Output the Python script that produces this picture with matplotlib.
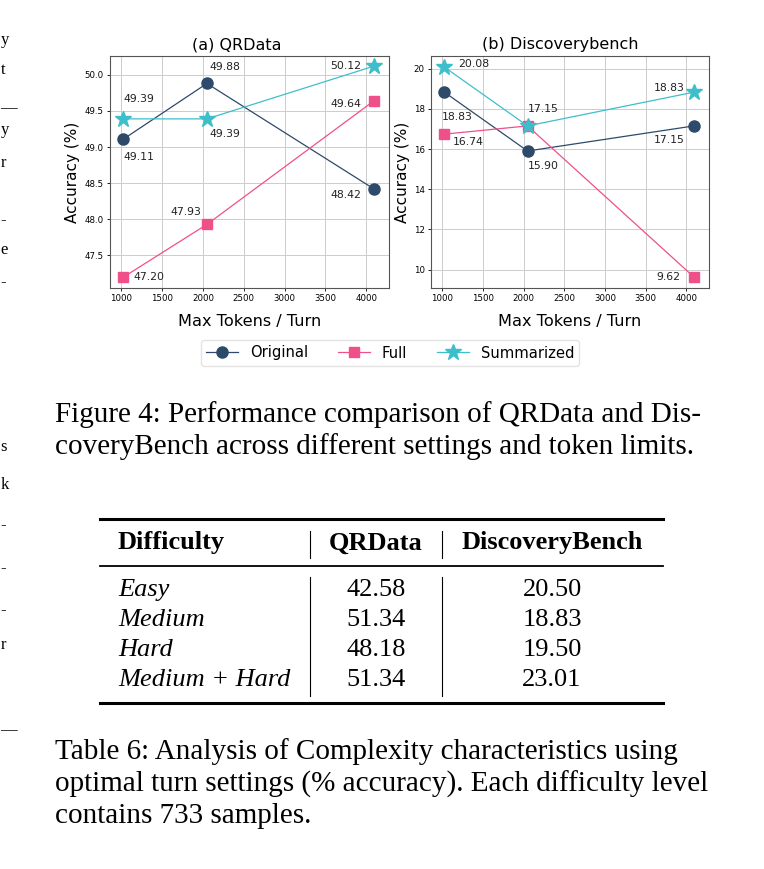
import numpy as np
import matplotlib.pyplot as plt
from matplotlib.lines import Line2D

# ---- data ----
tokens = [1024, 2048, 4096]
qr_original = [49.11, 49.88, 48.42]
qr_full = [47.20, 47.93, 49.64]
qr_summarized = [49.39, 49.39, 50.12]
db_original = [18.83, 15.90, 17.15]
db_full = [16.74, 17.15, 9.62]
db_summarized = [20.08, 17.15, 18.83]

series_names = ["Original", "Full", "Summarized"]
table_header = ["Difficulty", "QRData", "DiscoveryBench"]
difficulty = ["Easy", "Medium", "Hard", "Medium + Hard"]
table_qr = ["42.58", "51.34", "48.18", "51.34"]
table_db = ["20.50", "18.83", "19.50", "23.01"]

fig_caption = ["Figure 4: Performance comparison of QRData and Dis-",
               "coveryBench across different settings and token limits."]
tab_caption = ["Table 6: Analysis of Complexity characteristics using",
               "optimal turn settings (% accuracy). Each difficulty level",
               "contains 733 samples."]

W, H = 764, 869
C_ORIG = '#2E4A6B'
C_FULL = '#F0508A'
C_SUM = '#3DBFCB'
SERIF = 'Liberation Serif'

fig = plt.figure(figsize=(W / 100, H / 100), dpi=100)
fig.patch.set_facecolor('white')

def fy(y):
  return 1 - y / H

def fx(x):
  return x / W

def make_ax(x0, x1, y0, y1):
  return fig.add_axes([fx(x0), fy(y1), fx(x1) - fx(x0), fy(y0) - fy(y1)])

ax1 = make_ax(110, 389, 56, 288)
ax2 = make_ax(431, 709, 56, 288)

def draw_panel(ax, orig, full, summ, title, title_x, ylim, yticks, offsets):
  l1, = ax.plot(tokens, orig, color=C_ORIG, marker='o', markersize=8, linewidth=0.9, zorder=3)
  l2, = ax.plot(tokens, full, color=C_FULL, marker='s', markersize=7.5, linewidth=0.9, zorder=3)
  l3, = ax.plot(tokens, summ, color=C_SUM, marker='*', markersize=12, linewidth=0.9, zorder=4)
  done = set()
  for vals, offs in zip([orig, full, summ], offsets):
    for x, v, (dx, dy, ha) in zip(tokens, vals, offs):
      key = (x, v, dx, dy)
      if key in done:  # same value, same place: one label only
        continue
      done.add(key)
      ax.annotate(f'{v:.2f}', (x, v), xytext=(dx, dy), textcoords='offset points',
                  ha=ha, va='center', fontsize=7.8, color='#222222')
  ax.set_title(title, fontsize=11.5, pad=5, x=title_x)
  ax.set_ylabel('Accuracy (%)', fontsize=11, labelpad=3)
  ax.set_xlabel('Max Tokens / Turn', fontsize=11.6, labelpad=8)
  ax.set_xlim(860, 4280)
  ax.set_xticks([1000, 1500, 2000, 2500, 3000, 3500, 4000])
  ax.set_ylim(*ylim)
  ax.set_yticks(yticks)
  ax.tick_params(labelsize=6.2, length=2.5, width=0.6, pad=2)
  ax.grid(True, color='#cccccc', linewidth=0.7)
  ax.set_axisbelow(True)
  for s in ax.spines.values():
    s.set_color('#555555')
    s.set_linewidth(0.8)
  return [l1, l2, l3]

# label offsets (points) per series: original, full, summarized
qr_offsets = [
  [(0, -13, 'left'), (2, 11.5, 'left'), (-9, -4, 'right')],
  [(7, 0, 'left'), (-4, 9, 'right'), (-9, -2, 'right')],
  [(0, 14, 'left'), (2, -11, 'left'), (-9, 0, 'right')],
]
db_offsets = [
  [(-2, -18, 'left'), (0, -11, 'left'), (-7, -10, 'right')],
  [(6, -6, 'left'), (0, 12, 'left'), (-10, 0, 'right')],
  [(10, 2, 'left'), (0, 12, 'left'), (-7, 3, 'right')],
]

handles = draw_panel(ax1, qr_original, qr_full, qr_summarized, '(a) QRData', 0.456,
                     (47.05, 50.26), [47.5, 48.0, 48.5, 49.0, 49.5, 50.0], qr_offsets)
draw_panel(ax2, db_original, db_full, db_summarized, '(b) Discoverybench', 0.465,
           (9.08, 20.63), [10, 12, 14, 16, 18, 20], db_offsets)
ax1.yaxis.set_major_formatter(plt.FormatStrFormatter('%.1f'))

fig.legend(handles, series_names, loc='center', bbox_to_anchor=(fx(390), fy(353)),
           ncol=3, fontsize=10.6, frameon=True, edgecolor='#dddddd', handlelength=2.2,
           handletextpad=0.8, columnspacing=2.0, borderpad=0.35)

# left-edge fragments of the neighbouring column
frag = [(40, 'y'), (70, 't'), (108, '—'), (130, 'y'), (163, 'r'), (220, '-'), (250, 'e'),
        (282, '-'), (447, 's'), (485, 'k'), (525, '-'), (568, '-'), (610, '-'), (645, 'r'),
        (730, '—')]
for y, ch in frag:
  fig.text(fx(0.5), fy(y), ch, fontsize=12, family=SERIF, va='center', ha='left')

# figure caption
for i, line in enumerate(fig_caption):
  fig.text(fx(55), fy(415 + 32 * i), line, fontsize=21, family=SERIF, va='center', ha='left')

# table
def hline(y, lw):
  fig.add_artist(Line2D([fx(100), fx(663)], [fy(y), fy(y)], color='black', linewidth=lw))

def vline(x, y0, y1):
  fig.add_artist(Line2D([fx(x), fx(x)], [fy(y0), fy(y1)], color='black', linewidth=0.8))

hline(519, 2.2)
hline(566, 1.3)
hline(703, 2.2)
vline(310, 531, 558)
vline(442, 531, 558)
vline(310, 577, 696)
vline(442, 577, 696)

TF = 19
fig.text(fx(118), fy(543), table_header[0], fontsize=TF, family=SERIF, weight='bold', va='center')
fig.text(fx(376), fy(543), table_header[1], fontsize=TF, family=SERIF, weight='bold', va='center', ha='center')
fig.text(fx(552), fy(543), table_header[2], fontsize=TF, family=SERIF, weight='bold', va='center', ha='center')
for i, (d, q, b) in enumerate(zip(difficulty, table_qr, table_db)):
  y = 590 + 30 * i
  fig.text(fx(118), fy(y), d, fontsize=TF, family=SERIF, style='italic', va='center')
  fig.text(fx(376), fy(y), q, fontsize=TF, family=SERIF, va='center', ha='center')
  fig.text(fx(552), fy(y), b, fontsize=TF, family=SERIF, va='center', ha='center')

for i, line in enumerate(tab_caption):
  fig.text(fx(55), fy(752 + 32 * i), line, fontsize=21, family=SERIF, va='center', ha='left')

fig.savefig('out.png', dpi=100, facecolor='white')
